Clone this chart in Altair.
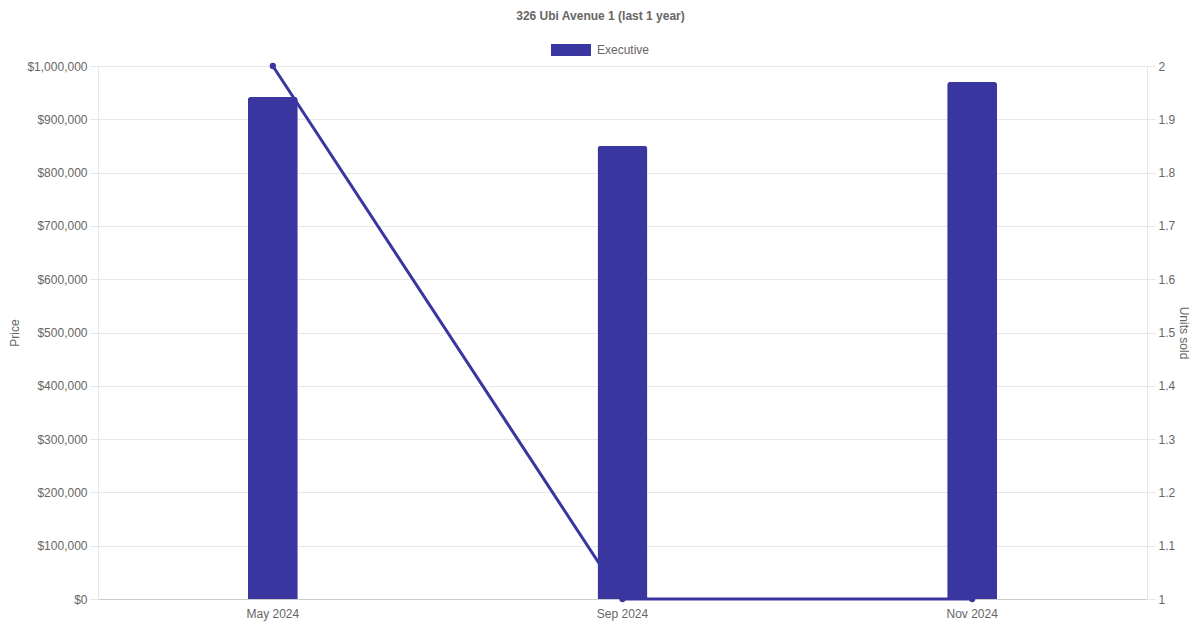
import altair as alt
import pandas as pd

months = ["May 2024", "Sep 2024", "Nov 2024"]
prices = [942000, 850000, 970000]
units = [2, 1, 1]
flat_type = ["Executive", "Executive", "Executive"]
price_ticks = [0, 100000, 200000, 300000, 400000, 500000, 600000, 700000, 800000, 900000, 1000000]
unit_ticks = [1, 1.1, 1.2, 1.3, 1.4, 1.5, 1.6, 1.7, 1.8, 1.9, 2]

df = pd.DataFrame({"month": months, "price": prices, "units": units, "type": flat_type})

COLOR = "#3A36A0"
FONT = "Liberation Sans"
LABEL = "#666666"
GRID = "#e6e6e6"

x = alt.X("month:N", sort=months, title=None,
          scale=alt.Scale(paddingInner=0, paddingOuter=0),
          axis=alt.Axis(labelAngle=0, ticks=False, grid=False, domainColor="#cccccc",
                        labelColor=LABEL, labelFont=FONT, labelFontSize=12, labelPadding=9))

bars = alt.Chart(df).mark_bar(size=50, cornerRadiusTopLeft=3, cornerRadiusTopRight=3).encode(
    x=x,
    y=alt.Y("price:Q", title="Price",
            scale=alt.Scale(domain=[0, 1000000], nice=False),
            axis=alt.Axis(orient="left", format="$,.0f", values=price_ticks, labelOverlap=False,
                          grid=True, gridColor=GRID, tickColor=GRID, tickSize=8, domainColor=GRID,
                          labelColor=LABEL, labelFont=FONT, labelFontSize=12, labelPadding=3,
                          titleColor=LABEL, titleFont=FONT, titleFontSize=12, titleFontWeight="normal",
                          titlePadding=5)),
    color=alt.Color("type:N", title=None,
                    scale=alt.Scale(domain=["Executive"], range=[COLOR]),
                    legend=alt.Legend(orient="none", legendX=453, legendY=-36, direction="horizontal",
                                      symbolType="M-1,-0.3L1,-0.3L1,0.3L-1,0.3Z", symbolSize=1600,
                                      symbolStrokeWidth=0, symbolOpacity=1,
                                      labelColor=LABEL, labelFont=FONT, labelFontSize=12, labelOffset=6)),
)

line = alt.Chart(df).mark_line(color=COLOR, strokeWidth=3, point=alt.OverlayMarkDef(color=COLOR, size=40, filled=True, opacity=1)).encode(
    x=x,
    y=alt.Y("units:Q", title="Units sold",
            scale=alt.Scale(domain=[1, 2], nice=False, zero=False),
            axis=alt.Axis(orient="right", format=".1~f", values=unit_ticks, labelOverlap=False,
                          grid=False, tickColor=GRID, tickSize=8, domainColor=GRID,
                          labelColor=LABEL, labelFont=FONT, labelFontSize=12, labelPadding=3,
                          titleColor=LABEL, titleFont=FONT, titleFontSize=12, titleFontWeight="normal",
                          titlePadding=2)),
)

chart = alt.layer(bars, line).resolve_scale(y="independent").properties(
    width=1049, height=533,
    autosize=alt.AutoSizeParams(type="none"),
    padding={"left": 90, "top": 58, "right": 45, "bottom": 23},
    title=alt.TitleParams("326 Ubi Avenue 1 (last 1 year)", anchor="middle", frame="group",
                          dx=-22, offset=-2, baseline="alphabetic",
                          font=FONT, fontSize=12, fontWeight="bold", color=LABEL),
).configure_view(stroke=None)

chart.save("out.html", embed_options={"renderer": "svg", "actions": False})
